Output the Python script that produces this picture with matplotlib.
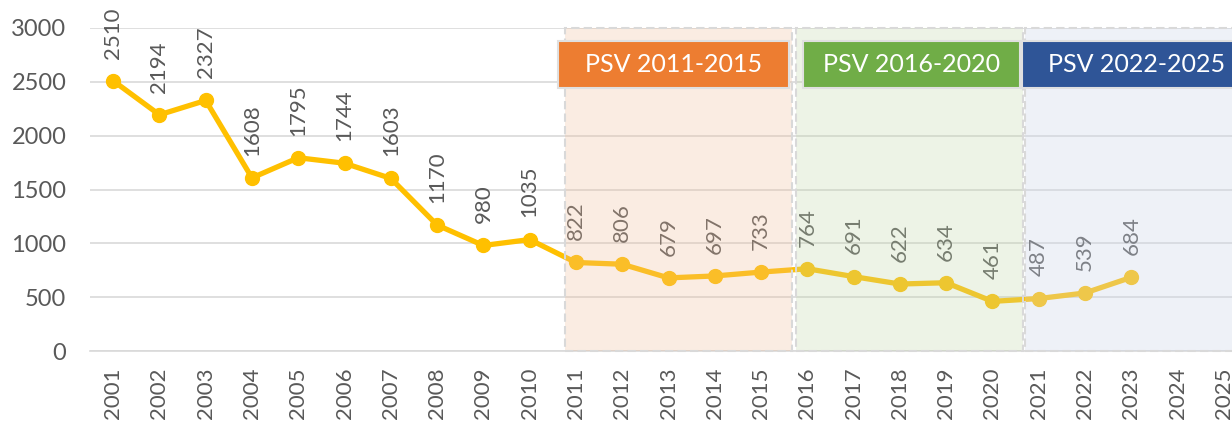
import matplotlib
matplotlib.use("Agg")
import matplotlib.pyplot as plt
from matplotlib.patches import Rectangle

years = [str(y) for y in range(2001, 2026)]
values = [2510, 2194, 2327, 1608, 1795, 1744, 1603, 1170, 980, 1035,
          822, 806, 679, 697, 733, 764, 691, 622, 634, 461,
          487, 539, 684]
yticks = [0, 500, 1000, 1500, 2000, 2500, 3000]

period_labels = ["PSV 2011-2015", "PSV 2016-2020", "PSV 2022-2025"]
period_spans = [(10.76, 15.67), (15.75, 20.65), (20.70, 25.6)]
header_spans = [(10.61, 15.60), (15.90, 20.59), (20.63, 25.6)]
header_colors = ["#ED7D31", "#70AD47", "#2F5597"]
overlay_colors = [(240/255, 188/255, 151/255, 0.27),
                  (193/255, 214/255, 169/255, 0.29),
                  (205/255, 214/255, 233/255, 0.32)]

plt.rcParams['font.family'] = ['Lato', 'DejaVu Sans']

fig = plt.figure(figsize=(12.32, 4.22), dpi=100)
W, H = 1232, 422
ax = fig.add_axes([90 / W, 1 - 351 / H, (1247 - 90) / W, (351 - 28) / H])

x = list(range(1, len(values) + 1))
ax.plot(x, values, color="#FFC000", linewidth=3.8, marker="o",
        markersize=10, zorder=2, solid_capstyle="round")

for xi, v in zip(x, values):
    ax.annotate(str(v), (xi, v), xytext=(0, 16), textcoords="offset points",
                rotation=90, ha="center", va="bottom", fontsize=16,
                color="#595959", zorder=2.5)

for (x0, x1), oc in zip(period_spans, overlay_colors):
    ax.add_patch(Rectangle((x0, 0), x1 - x0, 3000, facecolor=oc,
                           edgecolor="#D9D9D9", linestyle=(0, (4, 2)),
                           linewidth=1.5, zorder=3, clip_on=False))

for (x0, x1), col, lab in zip(header_spans, header_colors, period_labels):
    y0, y1 = 2443, 2881
    ax.add_patch(Rectangle((x0, y0), x1 - x0, y1 - y0, facecolor=col,
                           edgecolor="#E0E0E0", linewidth=1.5, zorder=4,
                           clip_on=False))
    ax.text((x0 + x1) / 2, (y0 + y1) / 2, lab, ha="center", va="center",
            color="white", fontsize=18, zorder=5, clip_on=False)

ax.set_xlim(0.5, 25.5)
ax.set_ylim(0, 3000)
ax.set_yticks(yticks)
ax.set_yticklabels([str(t) for t in yticks])
ax.set_xticks(range(1, len(years) + 1))
ax.set_xticklabels(years, rotation=90)
ax.tick_params(axis="x", length=0, pad=12, labelsize=16, labelcolor="#595959")
ax.tick_params(axis="y", length=0, pad=17, labelsize=17, labelcolor="#595959")
ax.yaxis.grid(True, color="#D9D9D9", linewidth=1.2, zorder=0)
ax.set_axisbelow(True)
for s in ["top", "right", "left"]:
    ax.spines[s].set_visible(False)
ax.spines["bottom"].set_color("#D9D9D9")
ax.spines["bottom"].set_linewidth(1.2)

fig.savefig("out.png", dpi=100)
